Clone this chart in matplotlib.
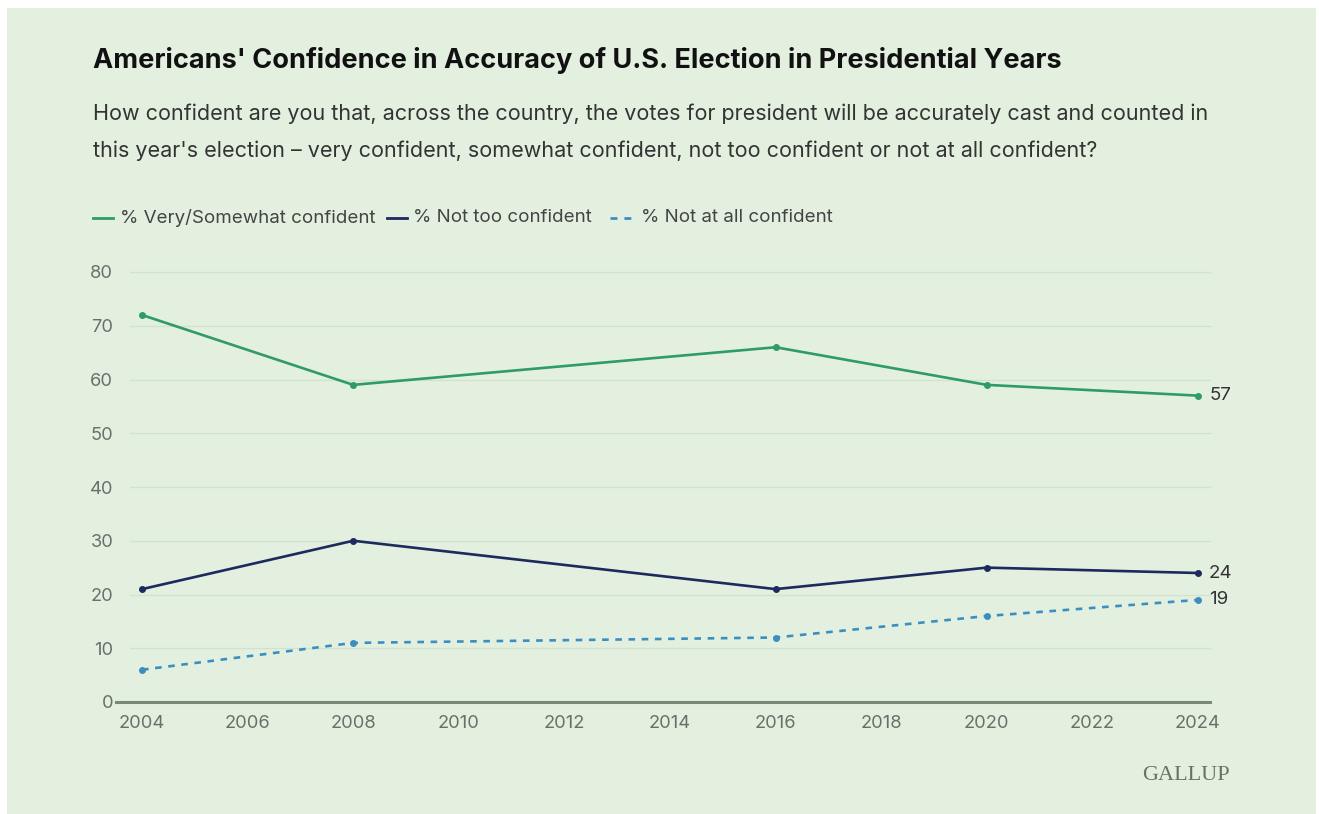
import matplotlib
matplotlib.use("Agg")
import matplotlib.pyplot as plt
import matplotlib.transforms as mtransforms

# --- data ---
years = [2004, 2008, 2016, 2020, 2024]
very_somewhat = [72, 59, 66, 59, 57]
not_too = [21, 30, 21, 25, 24]
not_at_all = [6, 11, 12, 16, 19]

series_labels = ["% Very/Somewhat confident", "% Not too confident", "% Not at all confident"]
x_ticks = list(range(2004, 2025, 2))
y_ticks = list(range(0, 81, 10))

title = "Americans' Confidence in Accuracy of U.S. Election in Presidential Years"
subtitle_lines = ["How confident are you that, across the country, the votes for president will be accurately cast and counted in",
                  "this year's election \u2013 very confident, somewhat confident, not too confident or not at all confident?"]

bg = "#e3f0e0"
green = "#2f9b66"
navy = "#1d2a5e"
blue = "#3b8fc0"
grid_c = "#d3e2d0"
tick_c = "#6b6f6b"
text_c = "#333333"

plt.rcParams['font.family'] = ['Inter', 'DejaVu Sans']

W, H = 1319, 814
fig = plt.figure(figsize=(W / 100, H / 100), dpi=100)
fig.patch.set_facecolor("white")
# green panel with thin white margin
fig.patches.append(plt.Rectangle((7 / W, 0), 1309 / W, (H - 8) / H, transform=fig.transFigure,
                                 facecolor=bg, edgecolor="none", zorder=-10))

ax = fig.add_axes([130 / W, 1 - 702 / H, 1080 / W, 430 / H])
ax.set_facecolor("none")
xpad = 12 / 52.7
ax.set_xlim(2004 - xpad, 2024 + xpad)
ax.set_ylim(0, 80)
for s in ax.spines.values():
    s.set_visible(False)

for yv in y_ticks[1:]:
    ax.axhline(yv, color=grid_c, linewidth=1.0, zorder=1, clip_on=False)

# zero baseline, extends a bit to the left
trans = mtransforms.blended_transform_factory(ax.transAxes, ax.transData)
ax.plot([-0.013, 1.0], [0, 0], transform=trans, color="#7a8977", linewidth=2.2, clip_on=False, zorder=2)

ax.plot(years, very_somewhat, color=green, linewidth=1.9, marker="o", markersize=4, zorder=3, clip_on=False)
ax.plot(years, not_too, color=navy, linewidth=1.9, marker="o", markersize=4, zorder=3, clip_on=False)
ax.plot(years, not_at_all, color=blue, linewidth=1.9, linestyle=(0, (2.5, 2.5)), marker="o",
        markersize=4, zorder=3, clip_on=False)

for vals in (very_somewhat, not_too, not_at_all):
    ax.annotate(str(vals[-1]), (years[-1], vals[-1]), xytext=(8, 0), textcoords="offset points",
                va="center", ha="left", fontsize=13.5, color=text_c)

ax.set_xticks(x_ticks)
ax.set_yticks(y_ticks)
ax.tick_params(axis="both", length=0, labelsize=13.2, labelcolor=tick_c)
ax.tick_params(axis="x", pad=9)
ax.tick_params(axis="y", pad=12)

# title, subtitle, legend, logo
fig.text(93 / W, 1 - 60 / H, title, fontsize=19.5, fontweight="bold", color="#111111", va="center", ha="left")
for i, line in enumerate(subtitle_lines):
    fig.text(93 / W, 1 - (114 + 37 * i) / H, line, fontsize=15.5, color=text_c, va="center", ha="left")

leg_y = 1 - 218 / H
legend_items = [(93, 113, green, "-", 120), (387, 407, navy, "-", 413), (610, 632, blue, (0, (2.5, 2.5)), 641)]
for (x0, x1, col, ls, tx), lab in zip(legend_items, series_labels):
    fig.add_artist(plt.Line2D([x0 / W, x1 / W], [leg_y, leg_y], color=col, linewidth=2.0, linestyle=ls,
                              transform=fig.transFigure))
    fig.text(tx / W, leg_y, lab, fontsize=13.5, color="#444444", va="center", ha="left")

fig.text(1230 / W, 1 - 776 / H, "GALLUP", fontsize=16, color="#6a6f6a", va="center", ha="right",
         family="Liberation Serif")

fig.savefig("out.png", dpi=100, facecolor=fig.get_facecolor())
